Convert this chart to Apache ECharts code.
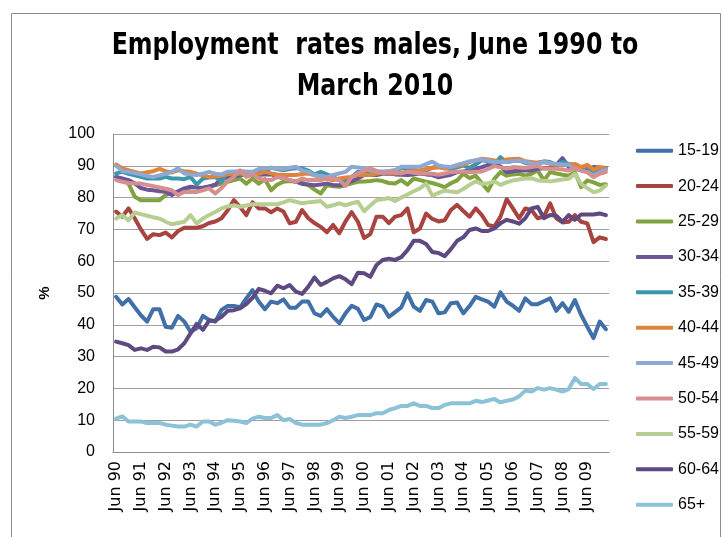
<!DOCTYPE html>
<html>
<head>
<meta charset="utf-8">
<script src="https://cdn.jsdelivr.net/npm/echarts@6/dist/echarts.min.js"></script>
<style>
html,body{margin:0;padding:0;background:#fff;}
#chart{width:724px;height:537px;}
</style>
</head>
<body>
<div id="chart"></div>
<script>
var categories = [
'Jun 90','Sep 90','Dec 90','Mar 91','Jun 91','Sep 91','Dec 91','Mar 92','Jun 92','Sep 92','Dec 92','Mar 93',
'Jun 93','Sep 93','Dec 93','Mar 94','Jun 94','Sep 94','Dec 94','Mar 95','Jun 95','Sep 95','Dec 95','Mar 96',
'Jun 96','Sep 96','Dec 96','Mar 97','Jun 97','Sep 97','Dec 97','Mar 98','Jun 98','Sep 98','Dec 98','Mar 99',
'Jun 99','Sep 99','Dec 99','Mar 00','Jun 00','Sep 00','Dec 00','Mar 01','Jun 01','Sep 01','Dec 01','Mar 02',
'Jun 02','Sep 02','Dec 02','Mar 03','Jun 03','Sep 03','Dec 03','Mar 04','Jun 04','Sep 04','Dec 04','Mar 05',
'Jun 05','Sep 05','Dec 05','Mar 06','Jun 06','Sep 06','Dec 06','Mar 07','Jun 07','Sep 07','Dec 07','Mar 08',
'Jun 08','Sep 08','Dec 08','Mar 09','Jun 09','Sep 09','Dec 09','Mar 10'
];
var seriesNames = ['15-19','20-24','25-29','30-34','35-39','40-44','45-49','50-54','55-59','60-64','65+'];
var yTicks = [0,10,20,30,40,50,60,70,80,90,100];

var s1519 = [48.8,46.4,48.1,45.5,43,41,44.9,44.9,39.4,39.1, 42.8,41,37.8,38.9,42.8,41.5,41,44.7,45.9,45.9, 45.5,48.3,50.9,47.3,44.9,47.3,46.8,48,45.4,45.4, 47.3,47.3,43.6,42.8,44.9,42.5,40.5,43.6,46,45, 41.5,42.4,46.4,45.7,42.5,44,45.5,49.9,45.7,44.4, 47.8,47.3,43.6,43.9,46.8,47,43.6,45.9,48.8,48, 47.3,45.7,50.2,47.3,46,44.4,48.3,46.5,46.5,47.4, 48.3,44.4,46.8,44.1,47.8,43.1,39.4,35.8,41,38.6];
var s2024 = [75.6,74,76.6,73.5,70,67,68.5,68.2,69,67.5, 69.5,70.5,70.5,70.5,71,72,72.5,73.5,76,79.2, 77,74.5,78.5,76.6,76.6,75.4,76.6,75.6,71.9,72.4, 76.1,73.5,72,70.8,69.1,71.4,68.8,72.5,75.4,72.4, 67.3,68.5,74,74,72,74,74.5,76.6,69.1,70.3, 75,73.3,72.5,72.9,76.1,77.7,75.8,74,76.6,74.5, 71.4,70.9,74,79.5,76.6,73.5,76.6,76.1,73.5,74, 78.2,73.5,72.2,72.4,74.5,72.4,71.9,66,67.5,67];
var s2529 = [86.5,85.5,84.4,80.3,79.2,79.2,79.2,79.2,80.8,81.5, 81.8,82.3,82,81.8,82.9,83.5,83.9,84.4,85,85.5, 86,84.4,86,84.4,85.8,82.3,84.1,85,85.2,85, 84.8,83.9,82.5,81.3,83.9,83.6,83.4,83.9,84.5,85, 85.1,85.2,85.5,85.2,84.6,84.4,85.5,84.1,86,85.5, 85,84.6,84,83.3,84.5,85.4,87.5,86.1,86.9,84.5, 82.2,85.9,88,86.9,87.3,87.5,86.9,87.5,88.5,85.4, 88,87.6,87.2,86.9,88,83.3,85.4,84.8,84,84.2];
var s3034 = [86.5,86,85.5,84.5,83,82.5,82.3,82,81.8,80.8, 82,82.9,83.4,83.2,83.1,83.5,84.1,86,86.3,86.5, 87.1,87.2,87.3,87.2,87.3,87.3,86.8,86,85.5,85, 84.3,84.1,83.9,84.1,84.4,84,83.9,84.4,85.2,86, 87.1,87.1,87.1,87.5,87.6,87.3,87.2,87.1,87.3,87.6, 87.3,87.1,86.4,86.8,87.2,88,88.2,88.5,89,89.6, 90.3,90.1,89.9,88,88.3,88.5,88.5,88.5,89.1,89.2, 89.3,90.3,92.4,89.6,90.1,89.6,88.5,89.6,89.5,89.3];
var s3539 = [87.6,88.1,87.5,87,86.5,86,86,86,86.5,86, 86,85.8,86.5,84.1,86,86.3,86.5,85,88.1,87.7, 87.3,87.5,87.6,88.1,88.1,89.4,89,88.6,89,89.2, 89.2,88.5,87.3,88.1,87.3,86.5,85.5,85.5,86.5,88.1, 88.2,88.3,88.2,88.1,88.1,88.6,89.2,89.4,88.8,88.1, 88.5,89.4,89.8,89.3,89,89.5,90.1,89.3,90.5,91.7, 91.4,90.6,92.7,91.2,91.5,91.7,90.9,90.6,91,91.4, 91.2,90.3,91.2,90.6,90.1,89.1,89.6,88,88.5,89.1];
var s4044 = [90.4,89.2,88.6,88.1,87.6,88,88.3,89,88.3,87.9, 88.6,88.3,88.1,87.5,87,86.5,86.7,86.9,87.3,87.6, 87.6,87.6,87.6,87.5,88.1,87.6,87.3,87.1,87.1,87.1, 87.4,87.6,87,86.5,85.8,85.5,86,86.3,86.5,87.1, 87.1,87.1,87.5,87.9,87.7,87.6,87.8,88.1,88.4,88.6, 89,89.4,89.5,89.1,89.6,90,90.3,91.2,91.7,92.2, 92,91.7,91.2,92,92.1,92.2,91.4,91.2,91,91.2, 90.6,90.4,90.1,90.4,90.6,89.6,90.3,88.8,89.6,89.1];
var s4549 = [90,88.3,88.1,87.7,87.3,86.8,86.5,87,87.5,88.1, 89.2,87.6,87.3,87.1,87.5,88.1,87.5,87.3,88.1,88.2, 88.3,88.2,88.1,89,89.2,89.4,89.2,89,89.4,89.7, 88.5,88.1,87.1,86.8,86.5,87.1,87.6,88.1,89.7,89.5, 89.2,88.5,88.1,88.1,88.4,88.6,89.7,89.7,89.7,89.7, 90.5,91.3,90.1,89.8,89.6,90.3,90.8,91.4,91.7,92, 91.6,91.2,91.2,91.2,91.5,91.7,91.2,90.8,90.6,91.2, 90.9,90.6,90.4,90.3,89.1,88.5,88,87,88,88.8];
var s5054 = [85.5,85,84.6,84.4,84.4,84,83.6,83.2,82.8,82.3, 80.8,81.8,81.8,81.8,82.3,82.9,81.3,83,85.2,86.5, 88.6,86.5,87.3,86,85.5,85.5,86.5,86,85.5,85, 86,85.5,85.5,85.5,86,86,85.5,83.7,86.5,87.6, 88.4,89.2,88.4,87.6,88.1,87.8,87.6,88.1,87.8,87.6, 87.6,87.5,87.2,87.6,88,88.2,88.1,88,88.1,88.2, 89,89.9,89.5,89.1,89.6,89.5,89.3,89.6,89.9,89.1, 89.1,89.1,88.8,88.5,89.3,88.5,88,86.4,87.5,88];
var s5559 = [73.4,74.5,72.9,75.3,74.8,74.3,73.8,73.4,72.4,71.6, 72,72.4,74.5,71.9,73.4,74.5,75.5,76.6,77.2,77.6, 77.1,77.5,77.9,77.9,77.9,77.9,77.9,78.5,79.2,78.7, 78.2,78.5,78.7,78.9,77.1,77.6,78.2,77.6,78.2,78.7, 75.7,77.5,79.2,79.5,79.9,78.9,80,81,82,82.9, 84.4,80.6,81.5,82.2,81.9,81.7,82.7,84,85.1,84.3, 84.5,85.1,84,84.8,85.4,85.7,86,86.1,85.4,85.3, 85.1,85.4,85.7,85.9,87.5,84.3,83,81.7,82.2,83.8];
var s6064 = [34.7,34.2,33.6,32.1,32.6,32.1,33.1,32.9,31.6,31.6, 32.3,34.2,37.3,40.3,38.4,41.3,41.3,42.5,44.4,44.6, 45.2,46.5,48.5,51.3,50.7,49.9,52.3,51.5,52.5,50.4, 49.7,52,54.9,52.5,53.5,54.6,55.3,54.3,52.8,56.4, 56.2,55.1,58.8,60.4,60.8,60.4,61.3,63.5,66.4,66.4, 65.4,62.9,62.6,61.6,63.8,66.4,67.5,69.8,70.3,69.5, 69.5,70.3,71.9,73,72.5,71.8,73.5,76.6,77.1,73.5, 74.5,74.3,72.4,74.5,73,74.7,74.7,74.7,75,74.5];
var s65p = [10.5,11.2,9.6,9.6,9.6,9.1,9.1,9.1,8.6,8.3, 8,8,8.6,8,9.6,9.6,8.6,9.2,10,9.8, 9.6,9.1,10.5,11.1,10.7,10.7,11.6,10,10.4,9.1, 8.6,8.6,8.6,8.6,9.1,10,11.1,10.7,11.1,11.6, 11.6,11.6,12.2,12.2,13.2,13.8,14.5,14.5,15.3,14.5, 14.5,13.8,13.8,14.8,15.3,15.3,15.3,15.3,16.1,15.7, 16.2,16.7,15.6,16.1,16.5,17.5,19.3,19,20.1,19.6, 20.1,19.6,19,19.8,23.3,21.4,21.4,19.8,21.4,21.4];

var seriesData = [s1519,s2024,s2529,s3034,s3539,s4044,s4549,s5054,s5559,s6064,s65p];
var colors = ['#4170A8','#A9433F','#80A33F','#6D5597','#3C97AE','#E0843A','#8EA8D4','#D68F8E','#B6CE92','#5E4A80','#8CC2D8'];

var chart = echarts.init(document.getElementById('chart'), null, {renderer:'canvas'});
var series = seriesNames.map(function(n, k){
  return {
    name: n, type: 'line', data: seriesData[k], symbol: 'none',
    lineStyle: {width: 4, color: colors[k], cap: 'round', join: 'round'},
    itemStyle: {color: colors[k]},
    emphasis: {disabled: true}
  };
});
chart.setOption({
  animation: false,
  backgroundColor: '#fff',
  color: colors,
  legend: {
    orient: 'vertical', left: 636, top: 142.7, padding: 0,
    icon: 'roundRect',
    itemWidth: 37, itemHeight: 4, itemGap: 19.4,
    data: seriesNames,
    textStyle: {fontFamily: '"Liberation Sans", sans-serif', fontSize: 16, color: '#000'},
    selectedMode: false
  },
  grid: {left: 113, top: 134, width: 496, height: 318, containLabel: false},
  xAxis: {
    type: 'category', data: categories, boundaryGap: true,
    axisLine: {show: true, lineStyle: {color: '#8c8c8c', width: 1}},
    axisTick: {show: false},
    axisLabel: {interval: 3, rotate: 90, margin: 9, fontFamily: '"DejaVu Sans", sans-serif', fontSize: 16, color: '#000'},
    splitLine: {show: false}
  },
  yAxis: {
    type: 'value', min: yTicks[0], max: yTicks[yTicks.length-1], interval: 10,
    axisLine: {show: true, lineStyle: {color: '#8c8c8c', width: 1}},
    axisTick: {show: false},
    axisLabel: {margin: 18, fontFamily: '"Liberation Sans", sans-serif', fontSize: 16, color: '#000'},
    splitLine: {show: true, lineStyle: {color: '#a0a0a0', width: 1}}
  },
  graphic: [
    {type: 'rect', shape: {x: 11.5, y: 13.5, width: 709, height: 560}, style: {fill: 'none', stroke: '#8a8a8a', lineWidth: 1}, silent: true, z: -10},
    {type: 'text', x: 375, y: 26, scaleX: 0.88, style: {text: 'Employment  rates males, June 1990 to\nMarch 2010', textAlign: 'center', textVerticalAlign: 'top', fontFamily: '"Liberation Sans Narrow", "DejaVu Sans Condensed", sans-serif', fontWeight: 'bold', fontSize: 30, lineHeight: 41, fill: '#000'}},
    {type: 'text', x: 45, y: 293, rotation: Math.PI/2, style: {text: '%', textAlign: 'center', textVerticalAlign: 'middle', fontFamily: '"Liberation Sans", sans-serif', fontWeight: 'bold', fontSize: 15, fill: '#000'}}
  ],
  series: series
});
</script>
</body>
</html>
